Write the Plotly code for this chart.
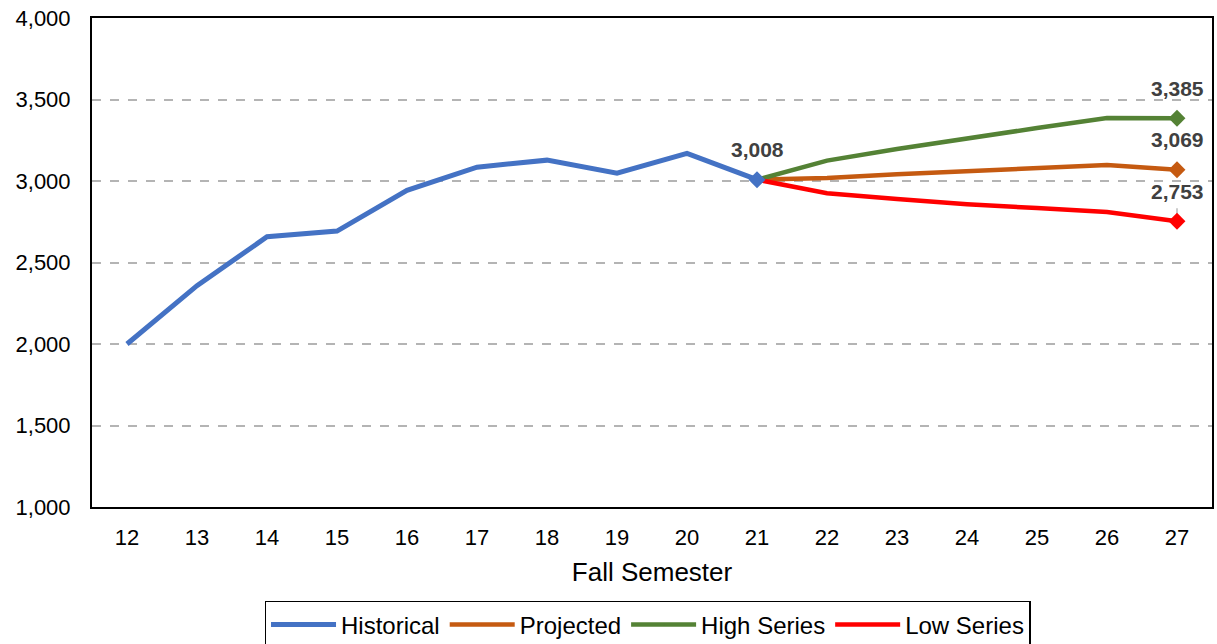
import plotly.graph_objects as go

years = ["12", "13", "14", "15", "16", "17", "18", "19", "20", "21", "22", "23", "24", "25", "26", "27"]
hist_x = years[:10]
hist_y = [2000, 2358, 2658, 2693, 2943, 3085, 3128, 3048, 3170, 3008]
proj_x = years[9:]
proj_y = [3008, 3018, 3042, 3061, 3080, 3098, 3069]
high_y = [3008, 3125, 3196, 3262, 3325, 3387, 3385]
low_y = [3008, 2925, 2890, 2858, 2834, 2810, 2753]

fig = go.Figure()

def add_series(name, xs, ys, color, width, marker_idx, rank):
    sizes = [13 if i in marker_idx else 0 for i in range(len(xs))]
    fig.add_trace(go.Scatter(
        x=xs, y=ys, name=name, mode="lines+markers", legendrank=rank,
        line=dict(color=color, width=width),
        marker=dict(symbol="diamond", size=sizes, color=color, opacity=1, line=dict(width=0)),
        hoverinfo="x+y",
    ))

add_series("Projected", proj_x, proj_y, "#C55A11", 4.5, [len(proj_x) - 1], 2)
add_series("High Series", proj_x, high_y, "#548235", 4.5, [len(proj_x) - 1], 3)
add_series("Low Series", proj_x, low_y, "#FF0000", 4.5, [len(proj_x) - 1], 4)
add_series("Historical", hist_x, hist_y, "#4472C4", 5, [len(hist_x) - 1], 1)

labels = [(hist_x[-1], hist_y[-1]), (proj_x[-1], high_y[-1]), (proj_x[-1], proj_y[-1]), (proj_x[-1], low_y[-1])]
for lx, ly in labels:
    fig.add_annotation(x=years.index(lx), y=ly, xref="x", yref="y", text=f"<b>{ly:,}</b>",
                       showarrow=False, yshift=30,
                       font=dict(family="Liberation Sans, Arial", size=21, color="#404040"))

# small leader line for the low series label
li = years.index(proj_x[-1])
fig.add_shape(type="line", xref="x", yref="y", x0=li, x1=li, layer="below",
              y0=low_y[-1], y1=low_y[-1] + 80, line=dict(color="#A6A6A6", width=1.2))

fig.update_layout(
    width=1217, height=644,
    margin=dict(l=92, r=5, t=18, b=137, autoexpand=False),
    paper_bgcolor="white", plot_bgcolor="white",
    font=dict(family="Liberation Sans, Arial", size=22, color="black"),
    showlegend=True,
    legend=dict(orientation="h", x=0.496, xanchor="center", y=-0.192, yanchor="top",
                bordercolor="black", borderwidth=1.5, traceorder="normal",
                font=dict(family="Liberation Sans, Arial", size=24),
                itemwidth=65, tracegroupgap=0),
    xaxis=dict(type="category", categoryorder="array", categoryarray=years,
               range=[-0.5, 15.5], showgrid=False, showline=True, linecolor="black",
               linewidth=2, mirror=True, ticks="", ticklabelstandoff=10,
               tickfont=dict(size=22), automargin=False,
               title=dict(text="Fall Semester", font=dict(size=26), standoff=13)),
    yaxis=dict(range=[1000, 4000], dtick=500, tickformat=",", showgrid=True,
               gridcolor="#B4B4B4", griddash="dash", gridwidth=1.5,
               showline=True, linecolor="black", linewidth=2, mirror=True, automargin=False,
               ticks="", ticklabelstandoff=15, tickfont=dict(size=22), zeroline=False),
)

fig.write_html("out.html", config={"displayModeBar": False},
               post_script="document.body.style.margin='0px';")
